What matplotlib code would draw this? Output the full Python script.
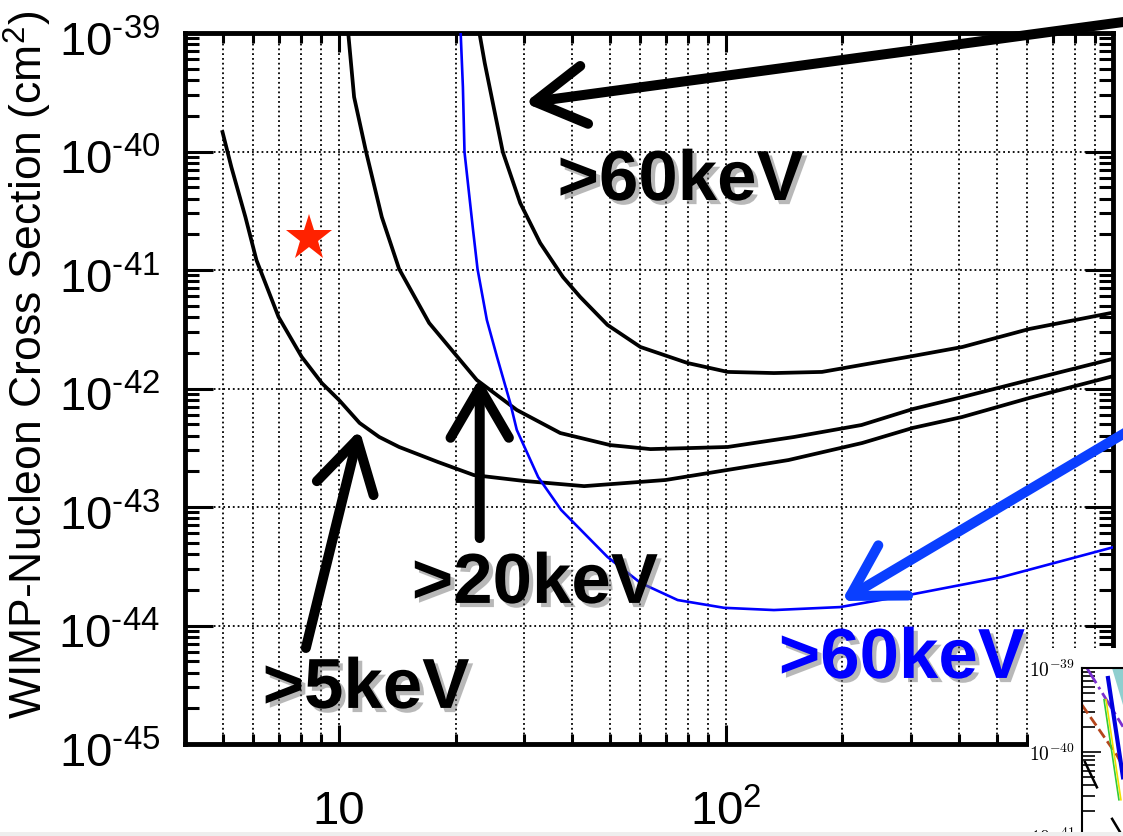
import numpy as np
import matplotlib
matplotlib.use('Agg')
import matplotlib.pyplot as plt
import matplotlib.patheffects as pe
from matplotlib.patches import Rectangle, Polygon
from matplotlib.ticker import LogLocator, FuncFormatter, NullFormatter
from matplotlib.transforms import ScaledTranslation

plt.rcParams['font.family'] = 'Liberation Sans'
plt.rcParams['mathtext.fontset'] = 'custom'
plt.rcParams['mathtext.rm'] = 'Liberation Sans'
plt.rcParams['mathtext.it'] = 'Liberation Sans:italic'
plt.rcParams['mathtext.bf'] = 'Liberation Sans:bold'

# exclusion curves: WIMP mass (GeV) vs WIMP-nucleon cross section (cm^2)
mass_5kev = [5.0, 5.27, 5.73, 6.12, 6.98, 8.01, 9.03, 10.0, 11.3, 12.7, 14.3, 18.0,
             22.3, 30.0, 43.0, 69.8, 145, 225, 304, 407, 608, 1000]
xsec_5kev = [1.46e-40, 7.40e-41, 2.80e-41, 1.21e-41, 4.01e-42, 1.85e-42, 1.11e-42,
             8.0e-43, 5.12e-43, 3.90e-43, 3.21e-43, 2.40e-43, 1.86e-43, 1.66e-43,
             1.50e-43, 1.69e-43, 2.49e-43, 3.47e-43, 4.65e-43, 5.74e-43, 8.32e-43, 1.27e-42]

mass_20kev = [10.55, 10.94, 11.75, 12.9, 14.3, 17.1, 22.7, 28.8, 37.3, 50.2, 63.8,
              82.6, 101, 150, 224, 304, 408, 608, 1000]
xsec_20kev = [1.05e-39, 2.88e-40, 9.91e-41, 2.80e-41, 1.02e-41, 3.57e-42, 1.18e-42,
              6.59e-43, 4.21e-43, 3.33e-43, 3.08e-43, 3.15e-43, 3.21e-43, 3.90e-43,
              4.92e-43, 6.71e-43, 8.47e-43, 1.18e-42, 1.78e-42]

mass_60kev = [23.0, 23.8, 26.5, 29.4, 33.1, 37.9, 42.0, 49.4, 60.1, 79.6, 101, 133,
              177, 224, 304, 408, 608, 1000]
xsec_60kev = [1.05e-39, 5.58e-40, 9.91e-41, 3.67e-41, 1.69e-41, 8.73e-42, 5.92e-42,
              3.44e-42, 2.24e-42, 1.64e-42, 1.38e-42, 1.35e-42, 1.38e-42, 1.58e-42,
              1.88e-42, 2.24e-42, 3.18e-42, 4.37e-42]

mass_60kev_new = [20.6, 20.9, 21.1, 22.2, 22.8, 24.1, 25.6, 27.7, 28.8, 32.7, 37.5,
                  49.4, 60.1, 75.0, 98.9, 133, 197, 297, 515, 1000]
xsec_60kev_new = [1.1e-39, 3.50e-40, 9.91e-41, 2.18e-41, 1.02e-41, 3.79e-42, 1.85e-42,
                  7.55e-43, 4.47e-43, 1.79e-43, 9.44e-44, 3.79e-44, 2.29e-44, 1.64e-44,
                  1.41e-44, 1.35e-44, 1.43e-44, 1.81e-44, 2.56e-44, 4.57e-44]

# signal hint
star_mass = 8.36
star_xsec = 1.86e-41

# label text, (mass, xsec) of label centre, arrow tail and arrow tip
labels = ['>5keV', '>20keV', '>60keV', '>60keV']
label_pos = [(11.75, 2.86e-45), (32.1, 2.2e-44), (76.4, 5.53e-41), (285, 5.12e-45)]
arrow_tail = [(8.21, 6.46e-45), (23.1, 5.47e-44), (1271, 1.34e-39), (1197, 5.21e-43)]
arrow_tip = [(11.3, 4.47e-43), (23.1, 1.23e-42), (30.2, 2.57e-40), (199, 1.61e-44)]
label_colors = ['black', 'black', 'black', '#0000ff']
arrow_colors = ['black', 'black', 'black', '#0a3fff']

# partially visible second plot (bottom right)
inset_purple_m = [1.12, 2.57]
inset_purple_x = [1.0e-39, 2.0e-40]
inset_brown_m = [1.0, 2.24, 2.6]
inset_brown_x = [3.63e-40, 9.1e-41, 6.5e-41]
inset_blue_m = [1.82, 2.57]
inset_blue_x = [7.6e-40, 5.0e-41]
inset_yellow_m = [1.74, 2.45]
inset_yellow_x = [4.2e-40, 2.7e-41]
inset_green_m = [1.66, 2.34]
inset_green_x = [4.2e-40, 2.7e-41]
inset_black_m = [1.07, 1.41]
inset_black_x = [7.6e-41, 3.8e-41]
inset_black2_m = [2.0, 2.6]
inset_black2_x = [1.6e-41, 9.5e-42]
inset_teal_m = [2.0, 2.6, 2.6]
inset_teal_x = [1.0e-39, 1.0e-39, 3.6e-40]

W, H = 1123, 836
fig = plt.figure(figsize=(W / 100, H / 100), dpi=100)
ax = fig.add_axes([185 / W, 92 / H, 928 / W, 711 / H])

ax.plot(mass_5kev, xsec_5kev, color='black', lw=2.7, zorder=3)
ax.plot(mass_20kev, xsec_20kev, color='black', lw=2.7, zorder=3)
ax.plot(mass_60kev, xsec_60kev, color='black', lw=2.7, zorder=3)
ax.plot(mass_60kev_new, xsec_60kev_new, color='#0000ff', lw=1.9, zorder=3)
ax.plot([star_mass], [star_xsec], marker='*', color='#ff2200', markersize=35,
        markeredgewidth=0, zorder=4)

ax.set_xscale('log')
ax.set_yscale('log')
ax.set_xlim(4, 1000)
ax.set_ylim(1e-45, 1e-39)


def xfmt(v, pos):
    if abs(v - 10) < 1e-6:
        return '10'
    if v > 500:
        return ''
    return r'$10^{%d}$' % round(np.log10(v))


def yfmt(v, pos):
    return '$10^{\u2010%d}$' % round(-np.log10(v))


ax.xaxis.set_major_locator(LogLocator(base=10, numticks=10))
ax.xaxis.set_minor_locator(LogLocator(base=10, subs=np.arange(2, 10), numticks=50))
ax.xaxis.set_major_formatter(FuncFormatter(xfmt))
ax.xaxis.set_minor_formatter(NullFormatter())
ax.yaxis.set_major_locator(LogLocator(base=10, numticks=20))
ax.yaxis.set_minor_locator(LogLocator(base=10, subs=np.arange(2, 10), numticks=100))
ax.yaxis.set_major_formatter(FuncFormatter(yfmt))
ax.yaxis.set_minor_formatter(NullFormatter())

ax.tick_params(which='both', direction='in', top=True, right=True, width=2.2,
               labelsize=34)
ax.tick_params(axis='y', which='major', length=20, pad=18)
ax.tick_params(axis='y', which='minor', length=10)
ax.tick_params(axis='x', which='major', length=14, pad=33)
ax.tick_params(axis='x', which='minor', length=7)
for s in ax.spines.values():
    s.set_linewidth(3.5)

# nudge the y tick labels down a little so the top one stays on the page
shift = ScaledTranslation(0, -4 / 72, fig.dpi_scale_trans)
for lab in ax.get_yticklabels():
    lab.set_transform(lab.get_transform() + shift)

ax.grid(True, which='major', linestyle=':', color='black', lw=1.3)
ax.grid(True, which='minor', axis='x', linestyle=':', color='black', lw=1.3)

ax.set_ylabel('WIMP-Nucleon Cross Section (cm$^2$)', fontsize=32)
ax.yaxis.set_label_coords(-0.141, 0.533)

shadow = [pe.SimplePatchShadow(offset=(3, -3), shadow_rgbFace='0.45', alpha=0.5),
          pe.Normal()]
for txt, pos, col in zip(labels, label_pos, label_colors):
    ax.text(pos[0], pos[1], txt, color=col, fontsize=51, fontweight='bold',
            ha='center', va='center', path_effects=shadow, zorder=6)

for tail, tip, col in zip(arrow_tail, arrow_tip, arrow_colors):
    ax.annotate('', xy=tip, xytext=tail, annotation_clip=False, zorder=5,
                arrowprops=dict(arrowstyle='->,head_length=3.6,head_width=2.1',
                                lw=7.2, color=col, shrinkA=0, shrinkB=0,
                                mutation_scale=10, capstyle='round',
                                joinstyle='round'))

# second figure pasted over the lower right corner
fig.add_artist(Rectangle((1029 / W, 0), 94 / W, 188 / H, transform=fig.transFigure,
                         facecolor='white', edgecolor='none', zorder=1))
ax2 = fig.add_axes([1082 / W, -84 / H, 300 / W, 252 / H])
ax2.set_zorder(2)
ax2.set_xscale('log')
ax2.set_yscale('log')
ax2.set_xlim(1, 1000)
ax2.set_ylim(1e-42, 1e-39)
ax2.add_patch(Polygon(list(zip(inset_teal_m, inset_teal_x)), closed=True,
                      facecolor='#8fcfcf', edgecolor='none'))
ax2.plot(inset_purple_m, inset_purple_x, color='#7a2fd0', lw=2, ls='-.')
ax2.plot(inset_brown_m, inset_brown_x, color='#b5451b', lw=2, ls='--')
ax2.plot(inset_green_m, inset_green_x, color='#33cc33', lw=1.2)
ax2.plot(inset_yellow_m, inset_yellow_x, color='#f0e000', lw=1.2)
ax2.plot(inset_blue_m, inset_blue_x, color='#0000dd', lw=3)
ax2.plot(inset_black_m, inset_black_x, color='black', lw=1.8)
ax2.plot(inset_black2_m, inset_black2_x, color='black', lw=1.8)
ax2.set_yticks([1e-39, 1e-40, 1e-41], labels=[r'$10^{-39}$', r'$10^{-40}$', r'$10^{-41}$'],
               math_fontfamily='cm', fontsize=14)
ax2.yaxis.set_minor_locator(LogLocator(base=10, subs=np.arange(2, 10), numticks=50))
ax2.yaxis.set_minor_formatter(NullFormatter())
ax2.tick_params(axis='x', which='both', bottom=False, top=False, labelbottom=False)
ax2.tick_params(axis='y', which='both', direction='in', left=True, right=False,
                width=1.2, pad=5)
ax2.tick_params(axis='y', which='major', length=14)
ax2.tick_params(axis='y', which='minor', length=9)
ax2.spines['right'].set_visible(False)
ax2.spines['bottom'].set_visible(False)
ax2.spines['left'].set_linewidth(1.5)
ax2.spines['top'].set_linewidth(1.5)

# slide background strip along the bottom edge
fig.add_artist(Rectangle((0, 0), 1, 4 / H, transform=fig.transFigure,
                         facecolor='#eeeeee', edgecolor='none', zorder=5))

fig.savefig('out.png', dpi=100)
